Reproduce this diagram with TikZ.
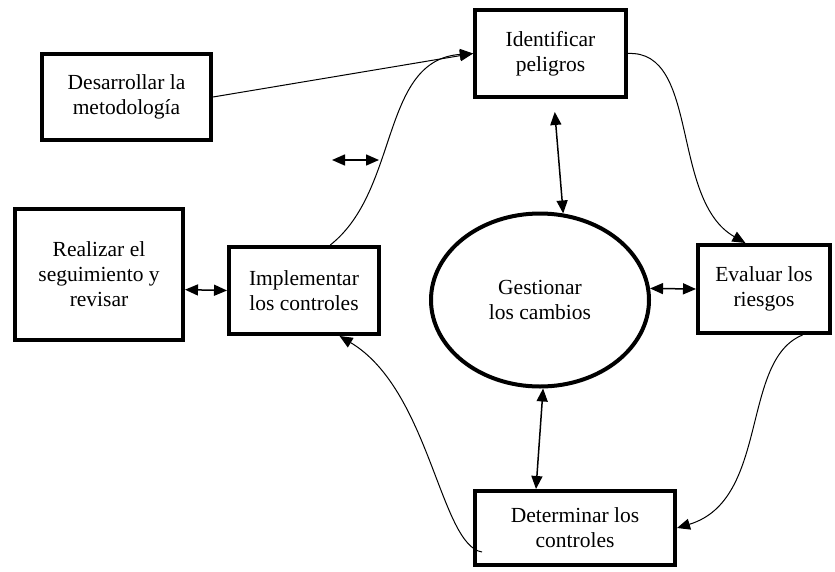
\documentclass[tikz,border=0pt]{standalone}
\usepackage{fontspec}
\setmainfont{Liberation Serif}
\usetikzlibrary{
	arrows.meta,
	shapes.geometric
}

\begin{document}
\begin{tikzpicture}[
			x=1pt, y=-1pt,
			font=\fontsize{21.5}{25}\selectfont,
			caja/.style={draw, line width=4pt, align=center, inner sep=2pt},
			elip/.style={draw, ellipse, line width=4pt, align=center, minimum width=218pt, minimum height=173pt},
			>={Triangle[length=13pt, width=11pt]},
			fl/.style={->, line width=1pt},
			dfl/.style={<->, line width=1.5pt}
		]
		\useasboundingbox (0,0) rectangle (835,571);

		\node[caja, minimum width=169pt, minimum height=86pt] (desa) at (126.5,97) {Desarrollar la\\metodología};
		\node[caja, minimum width=151pt, minimum height=87pt] (iden) at (550.5,53.5) {Identificar\\peligros};
		\node[caja, minimum width=132pt, minimum height=88pt] (eval) at (764,289) {Evaluar los\\riesgos};
		\node[elip] (gest) at (540,300) {Gestionar\\los cambios};
		\node[caja, minimum width=200pt, minimum height=74pt] (dete) at (575,528) {Determinar los\\controles};
		\node[caja, minimum width=168pt, minimum height=131pt] (real) at (99,274.5) {Realizar el\\seguimiento y\\revisar};
		\node[caja, minimum width=150pt, minimum height=87pt] (impl) at (304,290.5) {Implementar\\los controles};

		\coordinate (dl) at (482,552);
		\coordinate (f1) at (332,160);
		\coordinate (f2) at (379,160);

		\draw[fl] (desa.east) -- (iden.west);
		\draw[fl] (impl.60) .. controls (400,190) and (380,60) .. (iden.west);
		\draw[fl] (iden.east) .. controls (700,50) and (670,200) .. (eval.112);
		\draw[fl] (eval.310) .. controls (740,360) and (770,500) .. (dete.east);
		\draw[fl] (dl) .. controls (440,545) and (430,390) .. (impl.308);

		\draw[dfl, shorten <=13pt] (iden.-86) -- (gest.75);
		\draw[dfl] (gest.6) -- (eval.west);
		\draw[dfl] (gest.272) -- (dete.135);
		\draw[dfl] (real.-10) -- (impl.west);
		\draw[dfl] (f1) -- (f2);
	\end{tikzpicture}
\end{document}
